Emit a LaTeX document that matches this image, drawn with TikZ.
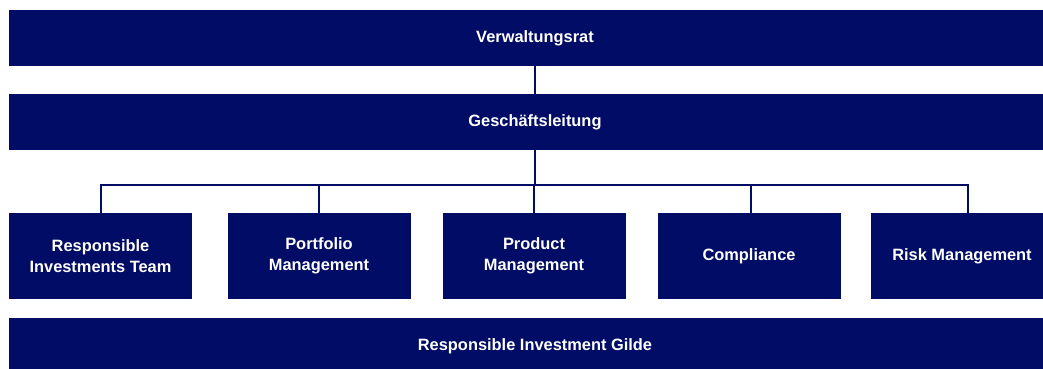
\documentclass[tikz,border=0pt]{standalone}
\usepackage{fontspec}
\setmainfont{Liberation Sans}
\definecolor{navy}{RGB}{0,12,102}

\begin{document}
\begin{tikzpicture}[x = 1pt, y = -1pt,
  bar/.style = {fill = navy, text = white, minimum width = 1052pt, minimum height = 56pt, inner sep = 0pt, font = \fontsize{16.4}{21}\selectfont\bfseries},
  unit/.style = {fill = navy, text = white, minimum width = 183pt, minimum height = 86pt, inner sep = 0pt, align = center, font = \fontsize{16.4}{21}\selectfont\bfseries},
  link/.style = {draw = navy, line width = 2pt}]
\clip (0, 0) rectangle (1043, 368);
\fill[white] (0, 0) rectangle (1043, 368);

\node[bar] at (535, 38) (vr)   {Verwaltungsrat};
\node[bar] at (535, 122) (gl)  {Geschäftsleitung};
\node[bar] at (535, 346) (rig) {Responsible Investment Gilde};

\node[unit] at (100.5, 256) (rit) {Responsible\\Investments Team};
\node[unit] at (319, 256) (pm)    {Portfolio\\Management};
\node[unit] at (534, 256) (prm)   {Product\\Management};
\node[unit] at (749, 256) (comp)  {Compliance};
\node[unit] at (962, 256) (risk)  {Risk Management};

\coordinate (bus) at (535, 185);

\draw[link] (vr) -- (gl);
\draw[link] (gl) -- (bus);
\draw[link] (rit.north) |- (bus);
\draw[link] ([xshift = 6pt]risk.north) |- (bus);
\draw[link] (pm.north) -- (pm.north |- bus);
\draw[link] (prm.north) -- (prm.north |- bus);
\draw[link] ([xshift = 2pt]comp.north) -- ([xshift = 2pt]comp.north |- bus);

\end{tikzpicture}
\end{document}
